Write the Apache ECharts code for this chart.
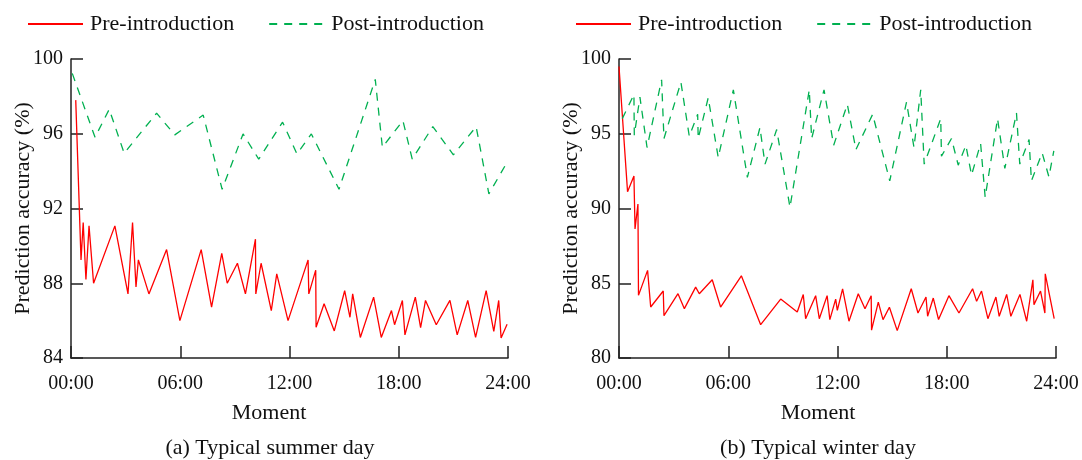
<!DOCTYPE html>
<html>
<head>
<meta charset="utf-8">
<script src="https://cdn.jsdelivr.net/npm/echarts@6/dist/echarts.min.js"></script>
<style>
  html, body { margin: 0; padding: 0; background: #fff; }
  #chart { width: 1082px; height: 460px; }
</style>
</head>
<body>
<div id="chart"></div>
<script>
// x ticks (hours)
var hourTicks = [0, 6, 12, 18, 24];

// (a) summer day
var summerPreHour = [0.26, 0.55, 0.67, 0.82, 0.99, 1.24, 2.41, 3.13, 3.38, 3.57, 3.7, 4.28, 5.25, 5.98, 7.15, 7.72, 8.28, 8.58, 9.14, 9.58, 10.13, 10.15, 10.44, 11.0, 11.3, 11.92, 13.02, 13.06, 13.44, 13.46, 13.9, 14.46, 15.03, 15.32, 15.47, 15.89, 16.62, 17.04, 17.6, 17.77, 18.2, 18.34, 18.91, 19.2, 19.47, 20.06, 20.81, 21.21, 21.79, 22.22, 22.8, 23.22, 23.49, 23.62, 23.95];
var summerPreVal = [97.8, 89.25, 91.25, 88.2, 91.07, 88.0, 91.07, 87.43, 91.25, 87.8, 89.25, 87.43, 89.8, 86.0, 89.8, 86.72, 89.6, 88.0, 89.07, 87.43, 90.36, 87.43, 89.07, 86.54, 88.5, 86.0, 89.25, 87.43, 88.7, 85.65, 86.9, 85.45, 87.6, 86.18, 87.43, 85.1, 87.26, 85.1, 86.54, 85.78, 87.08, 85.24, 87.26, 85.63, 87.08, 85.78, 87.08, 85.24, 87.08, 85.1, 87.6, 85.42, 87.08, 85.07, 85.8];
var summerPostHour = [0.07, 1.32, 2.1, 2.92, 4.7, 5.7, 7.26, 8.3, 9.45, 10.31, 11.62, 12.41, 13.2, 14.72, 16.71, 17.1, 18.23, 18.74, 19.87, 21.0, 22.25, 22.95, 23.9];
var summerPostVal = [99.23, 95.81, 97.31, 94.96, 97.1, 95.94, 97.0, 93.03, 95.99, 94.64, 96.62, 94.92, 95.99, 93.03, 98.91, 95.28, 96.7, 94.64, 96.38, 94.87, 96.38, 92.78, 94.39];

// (b) winter day
var winterPreHour = [0.0, 0.47, 0.82, 0.88, 1.04, 1.07, 1.57, 1.74, 2.43, 2.47, 3.24, 3.59, 4.21, 4.41, 5.12, 5.58, 6.72, 7.78, 8.88, 9.79, 10.12, 10.25, 10.8, 11.0, 11.43, 11.58, 11.9, 11.99, 12.28, 12.63, 13.14, 13.51, 13.85, 13.87, 14.24, 14.5, 14.85, 15.28, 16.05, 16.42, 16.86, 16.95, 17.26, 17.55, 18.12, 18.67, 19.42, 19.64, 19.91, 20.26, 20.7, 20.88, 21.29, 21.52, 22.02, 22.39, 22.73, 22.79, 23.15, 23.39, 23.41, 23.9];
var winterPreVal = [99.5, 91.12, 92.17, 88.63, 90.3, 84.19, 85.86, 83.41, 84.48, 82.83, 84.3, 83.3, 84.74, 84.3, 85.23, 83.41, 85.5, 82.23, 83.94, 83.08, 84.25, 82.63, 84.17, 82.63, 84.17, 82.57, 83.94, 83.19, 84.63, 82.46, 84.3, 83.3, 84.17, 81.86, 83.74, 82.57, 83.39, 81.83, 84.63, 83.01, 84.08, 82.79, 84.01, 82.57, 84.17, 83.01, 84.63, 83.79, 84.48, 82.63, 84.08, 82.79, 84.25, 82.79, 84.25, 82.46, 85.23, 83.57, 84.48, 83.01, 85.63, 82.63];
var winterPostHour = [0.18, 0.82, 0.84, 1.15, 1.54, 2.34, 2.47, 3.4, 3.86, 4.32, 4.35, 4.9, 5.45, 6.28, 7.05, 7.74, 8.02, 8.66, 9.39, 10.45, 10.58, 11.26, 11.79, 12.54, 13.01, 13.93, 14.87, 15.79, 16.2, 16.57, 16.76, 17.67, 17.71, 18.26, 18.63, 19.05, 19.36, 19.86, 20.11, 20.79, 21.19, 21.83, 22.01, 22.52, 22.65, 23.24, 23.61, 23.88];
var winterPostVal = [96.01, 97.63, 94.9, 97.45, 94.08, 98.61, 94.68, 98.45, 94.83, 96.3, 94.68, 97.41, 93.41, 97.94, 92.08, 95.41, 92.97, 95.28, 90.08, 97.94, 94.68, 97.94, 94.23, 96.97, 93.94, 96.3, 91.85, 97.12, 94.08, 97.94, 92.97, 96.01, 93.5, 94.68, 92.9, 94.23, 92.23, 94.34, 90.75, 96.01, 92.68, 96.39, 92.97, 94.61, 91.85, 93.72, 92.12, 93.85];

var FONT = "'Liberation Serif', 'Times New Roman', serif";
var RED = '#ff0000';
var GREEN = '#00b050';

function pairs(xs, ys) {
    var out = [];
    for (var i = 0; i < xs.length; i++) {
        out.push([xs[i], ys[i]]);
    }
    return out;
}

function hhmm(v) {
    return (v < 10 ? '0' + v : '' + v) + ':00';
}

function xAxisFor(idx) {
    return {
        type: 'value', gridIndex: idx, min: hourTicks[0], max: hourTicks[hourTicks.length - 1], interval: 6,
        axisLine: { lineStyle: { color: '#222', width: 1.5 } },
        axisTick: { inside: true, length: 12, lineStyle: { color: '#222', width: 1.5 } },
        axisLabel: { formatter: hhmm, color: '#111', fontFamily: FONT, fontSize: 20, margin: 16 },
        splitLine: { show: false }
    };
}

function yAxisFor(idx, min, max, step) {
    return {
        type: 'value', gridIndex: idx, min: min, max: max, interval: step,
        name: 'Prediction accuracy (%)', nameLocation: 'middle', nameGap: 37,
        nameMoveOverlap: false,
        nameTextStyle: { color: '#111', fontFamily: FONT, fontSize: 22 },
        axisLine: { show: true, lineStyle: { color: '#222', width: 1.5 } },
        axisTick: { show: true, inside: true, length: 12, lineStyle: { color: '#222', width: 1.5 } },
        axisLabel: { color: '#111', fontFamily: FONT, fontSize: 20, margin: 8 },
        splitLine: { show: false }
    };
}

function legendFor(left) {
    return {
        left: left, top: 8, itemWidth: 55, itemHeight: 14, itemGap: 34,
        data: ['Pre-introduction', 'Post-introduction'],
        itemStyle: { opacity: 0 },
        textStyle: { color: '#111', fontFamily: FONT, fontSize: 22, padding: [0, 0, 0, 2] }
    };
}

function lineSeries(name, idx, data, color, dashed) {
    return {
        name: name, type: 'line', xAxisIndex: idx, yAxisIndex: idx,
        data: data, symbol: 'none', animation: false,
        lineStyle: { color: color, width: 1.3, type: dashed ? [8, 7] : 'solid' },
        itemStyle: { color: color }
    };
}

var myChart = echarts.init(document.getElementById('chart'));
var option = {
    backgroundColor: '#fff',
    animation: false,
    title: [
        { text: 'Moment', left: 264, top: 397, textAlign: 'center', textStyle: { color: '#111', fontFamily: FONT, fontSize: 22, fontWeight: 'normal' } },
        { text: '(a) Typical summer day', left: 265, top: 432, textAlign: 'center', textStyle: { color: '#111', fontFamily: FONT, fontSize: 22, fontWeight: 'normal' } },
        { text: 'Moment', left: 813, top: 397, textAlign: 'center', textStyle: { color: '#111', fontFamily: FONT, fontSize: 22, fontWeight: 'normal' } },
        { text: '(b) Typical winter day', left: 813, top: 432, textAlign: 'center', textStyle: { color: '#111', fontFamily: FONT, fontSize: 22, fontWeight: 'normal' } }
    ],
    legend: [legendFor(22), legendFor(570)],
    grid: [
        { left: 71, top: 59, width: 437, height: 299 },
        { left: 619, top: 59, width: 437, height: 299 }
    ],
    xAxis: [xAxisFor(0), xAxisFor(1)],
    yAxis: [yAxisFor(0, 84, 100, 4), yAxisFor(1, 80, 100, 5)],
    series: [
        lineSeries('Pre-introduction', 0, pairs(summerPreHour, summerPreVal), RED, false),
        lineSeries('Post-introduction', 0, pairs(summerPostHour, summerPostVal), GREEN, true),
        lineSeries('Pre-introduction', 1, pairs(winterPreHour, winterPreVal), RED, false),
        lineSeries('Post-introduction', 1, pairs(winterPostHour, winterPostVal), GREEN, true)
    ]
};
myChart.setOption(option);
</script>
</body>
</html>
